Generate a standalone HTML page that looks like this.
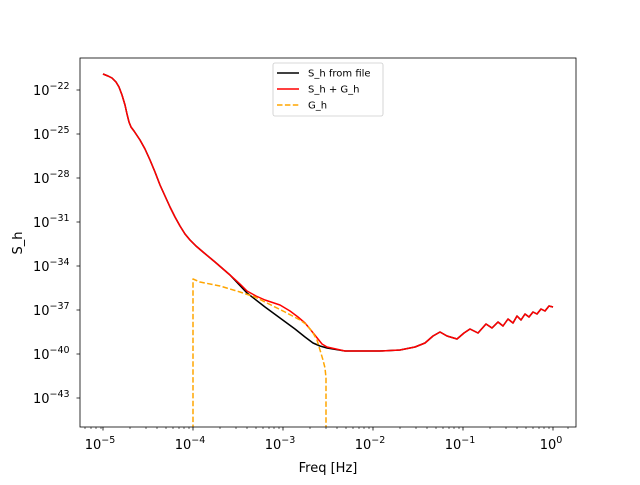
<!DOCTYPE html>
<html><head><style>body{margin:0;background:#fff}svg text{font-family:"DejaVu Sans","Liberation Sans",sans-serif}</style></head>
<body>
<svg width="640" height="480" viewBox="0 0 640 480" xmlns="http://www.w3.org/2000/svg">
<rect width="640" height="480" fill="#fff"/>
<defs><clipPath id="c"><rect x="80" y="58" width="496" height="369"/></clipPath></defs>
<g clip-path="url(#c)" fill="none" stroke-width="1.5" stroke-linejoin="round">
<path stroke="#000" d="M103,74 L108,76 L112,78 L116,82 L119,87 L122,95 L125,105 L127,114 L129,122 L131,127 L134,131 L140,140 L145,149 L150,160 L155,172 L160,185 L165,196 L170,207 L175,217 L180,226 L185,234 L190,240 L196,246 L203,252 L215,262 L230,275 L247,293 L265,307 L280,318 L295,329 L305,337 L313,343 L320,346 L327,348 L345,351 L380,351 L400,350 L415,347 L425,343 L433,336 L440,332 L447,336 L457,339 L464,333 L470,329 L478,333 L486,324 L492,328 L498,322 L503,326 L508,319 L513,323 L517,316 L521,320 L525,314 L529,317 L533,312 L537,314 L541,309 L545,311 L549,306 L553,307"/>
<path stroke="#ff0000" d="M103,74 L108,76 L112,78 L116,82 L119,87 L122,95 L125,105 L127,114 L129,122 L131,127 L134,131 L140,140 L145,149 L150,160 L155,172 L160,185 L165,196 L170,207 L175,217 L180,226 L185,234 L190,240 L196,246 L203,252 L215,262 L230,275 L240,284 L247,291 L256,296 L265,300 L280,305 L290,311 L298,317 L305,323 L310,329 L314,334 L318,339 L322,344 L327,347 L345,351 L380,351 L400,350 L415,347 L425,343 L433,336 L440,332 L447,336 L457,339 L464,333 L470,329 L478,333 L486,324 L492,328 L498,322 L503,326 L508,319 L513,323 L517,316 L521,320 L525,314 L529,317 L533,312 L537,314 L541,309 L545,311 L549,306 L553,307"/>
<path stroke="#ffa500" stroke-dasharray="5.5,2.4" d="M193,430 L193,279 L200,282 L220,286 L240,292 L255,297 L267,303 L285,312 L300,320 L307,325 L313,333 L317,340 L320,350 L323,360 L325,368 L326,378 L326,430"/>
</g>
<rect x="80" y="58" width="496" height="369" fill="none" stroke="#000" stroke-width="0.8"/>
<g stroke="#000" stroke-width="0.8">
<path d="M103,427v3.5M193,427v3.5M283,427v3.5M373,427v3.5M463,427v3.5M553,427v3.5"/>
<path stroke-width="0.6" d="M130,427v2M146,427v2M157,427v2M166,427v2M173,427v2M179,427v2M184,427v2M189,427v2M220,427v2M236,427v2M247,427v2M256,427v2M263,427v2M269,427v2M274,427v2M279,427v2M310,427v2M326,427v2M337,427v2M346,427v2M353,427v2M359,427v2M364,427v2M369,427v2M400,427v2M416,427v2M427,427v2M436,427v2M443,427v2M449,427v2M454,427v2M459,427v2M490,427v2M506,427v2M517,427v2M526,427v2M533,427v2M539,427v2M544,427v2M549,427v2M85,427v2M91,427v2M96,427v2M101,427v2M568,427v2"/>
<path d="M80,90h-3.5M80,134h-3.5M80,178h-3.5M80,222h-3.5M80,266h-3.5M80,310h-3.5M80,354h-3.5M80,398h-3.5"/>
</g>
<g font-size="13" text-anchor="middle" fill="#000">
<text x="100" y="449">10<tspan dy="-6" font-size="9.5">−5</tspan></text>
<text x="190" y="449">10<tspan dy="-6" font-size="9.5">−4</tspan></text>
<text x="280" y="449">10<tspan dy="-6" font-size="9.5">−3</tspan></text>
<text x="370" y="449">10<tspan dy="-6" font-size="9.5">−2</tspan></text>
<text x="460" y="449">10<tspan dy="-6" font-size="9.5">−1</tspan></text>
<text x="551" y="449">10<tspan dy="-6" font-size="9.5">0</tspan></text>
</g>
<g font-size="13" fill="#000">
<text x="33" y="95">10<tspan dy="-6" font-size="9.5">−22</tspan></text>
<text x="33" y="139">10<tspan dy="-6" font-size="9.5">−25</tspan></text>
<text x="33" y="183">10<tspan dy="-6" font-size="9.5">−28</tspan></text>
<text x="33" y="227">10<tspan dy="-6" font-size="9.5">−31</tspan></text>
<text x="33" y="271">10<tspan dy="-6" font-size="9.5">−34</tspan></text>
<text x="33" y="315">10<tspan dy="-6" font-size="9.5">−37</tspan></text>
<text x="33" y="359">10<tspan dy="-6" font-size="9.5">−40</tspan></text>
<text x="33" y="403">10<tspan dy="-6" font-size="9.5">−43</tspan></text>
</g>
<text x="328" y="472" font-size="13" text-anchor="middle">Freq [Hz]</text>
<text x="22" y="243" font-size="13" text-anchor="middle" transform="rotate(-90 22 243)">S_h</text>
<rect x="273" y="63" width="110" height="53" fill="#fff" stroke="#ccc" stroke-width="0.8" rx="2"/>
<line x1="277" y1="73" x2="299" y2="73" stroke="#000" stroke-width="1.5"/>
<line x1="277" y1="89" x2="299" y2="89" stroke="#f00" stroke-width="1.5"/>
<line x1="277" y1="105" x2="299" y2="105" stroke="#ffa500" stroke-width="1.5" stroke-dasharray="5.5,2.4"/>
<g font-size="10">
<text x="308" y="76.5">S_h from file</text>
<text x="308" y="92.5">S_h + G_h</text>
<text x="308" y="108.5">G_h</text>
</g>
</svg>
</body></html>
